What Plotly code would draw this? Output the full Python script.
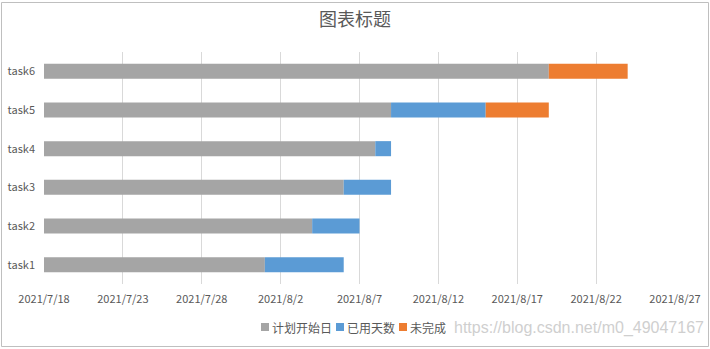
import plotly.graph_objects as go
import pandas as pd

tasks = ["task1", "task2", "task3", "task4", "task5", "task6"]
start_dates = ["2021-08-01", "2021-08-04", "2021-08-06", "2021-08-08", "2021-08-09", "2021-08-19"]
used_days = [5, 3, 3, 1, 6, 0]
remaining_days = [0, 0, 0, 0, 4, 5]
series_names = ["计划开始日", "已用天数", "未完成"]
series_colors = ["#a5a5a5", "#5b9bd5", "#ed7d31"]
axis_min = "2021-07-18"
axis_max = "2021-08-27"
tick_dates = ["2021-07-18", "2021-07-23", "2021-07-28", "2021-08-02", "2021-08-07",
              "2021-08-12", "2021-08-17", "2021-08-22", "2021-08-27"]
tick_labels = ["2021/7/18", "2021/7/23", "2021/7/28", "2021/8/2", "2021/8/7",
               "2021/8/12", "2021/8/17", "2021/8/22", "2021/8/27"]

DAY = 86400000
t0 = pd.Timestamp(axis_min)
starts = [pd.Timestamp(s) for s in start_dates]
gray_len = [(s - t0).days * DAY for s in starts]
blue_base = [s.strftime("%Y-%m-%d") for s in starts]
blue_len = [u * DAY for u in used_days]
orange_base = [(s + pd.Timedelta(days=u)).strftime("%Y-%m-%d") for s, u in zip(starts, used_days)]
orange_len = [r * DAY for r in remaining_days]

FONT = "Noto Sans CJK SC"
TXT = "#595959"
BW = 0.39
W, H = 710, 349
ML, MR, MT, MB = 44, 35, 52, 65
PW, PH = W - ML - MR, H - MT - MB

def px(xp):
    return (xp - ML) / PW

def py(yp):
    return (H - MB - yp) / PH

fig = go.Figure()
bases = [[axis_min] * len(tasks), blue_base, orange_base]
lens = [gray_len, blue_len, orange_len]
for name, color, b, l in zip(series_names, series_colors, bases, lens):
    fig.add_trace(go.Bar(y=tasks, x=l, base=b, orientation="h", name=name,
                         marker=dict(color=color, line=dict(width=0)), width=BW,
                         showlegend=False))

# compact Excel-style legend
leg_x = [261, 336, 399]
shapes = [dict(type="rect", xref="paper", yref="paper", x0=px(1.5), x1=px(708.5),
               y0=py(346.5), y1=py(2.5), line=dict(color="#bfbfbf", width=1))]
annotations = []
leg_y = 327
for x0, name, color in zip(leg_x, series_names, series_colors):
    shapes.append(dict(type="rect", xref="paper", yref="paper", x0=px(x0), x1=px(x0 + 8),
                       y0=py(leg_y + 4), y1=py(leg_y - 4), fillcolor=color, line=dict(width=0)))
    annotations.append(dict(text=name, xref="paper", yref="paper", x=px(x0 + 9), xanchor="left",
                            y=py(leg_y), yanchor="middle", showarrow=False,
                            font=dict(family=FONT, size=12, color=TXT)))
annotations.append(dict(text="https://blog.csdn.net/m0_49047167", xref="paper", yref="paper",
                        x=px(452), xanchor="left", y=py(leg_y + 1), yanchor="middle", showarrow=False,
                        font=dict(family="Liberation Sans", size=16, color="#cfcfcf")))

fig.update_layout(
    width=W, height=H,
    barmode="overlay",
    paper_bgcolor="white", plot_bgcolor="white",
    margin=dict(l=ML, r=MR, t=MT, b=MB, autoexpand=False),
    font=dict(family=FONT, color=TXT, size=11),
    title=dict(text="图表标题", x=0.5, xanchor="center", y=1 - 20 / H, yanchor="middle",
               font=dict(family=FONT, size=18, color=TXT)),
    showlegend=False,
    xaxis=dict(type="date", range=[axis_min, axis_max], tickvals=tick_dates, ticktext=tick_labels,
               showgrid=True, gridcolor="#d9d9d9", gridwidth=1, zeroline=False, showline=False,
               ticks="", ticklabelstandoff=7, automargin=False,
               tickfont=dict(family=FONT, size=11, color=TXT)),
    yaxis=dict(categoryorder="array", categoryarray=tasks, showgrid=False, zeroline=False,
               showline=False, ticks="", ticklabelstandoff=8, automargin=False,
               tickfont=dict(family=FONT, size=11, color=TXT)),
    shapes=shapes,
    annotations=annotations,
)

fig.write_html("out.html")
